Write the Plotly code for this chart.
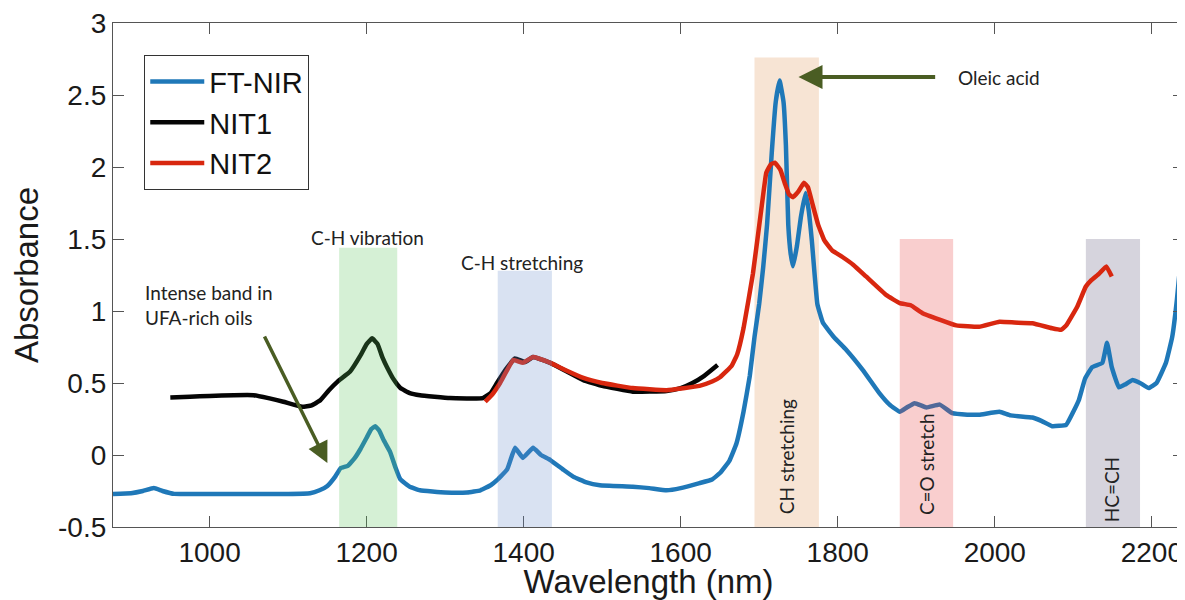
import plotly.graph_objects as go

# ---------------- data ----------------
ftnir_x = [877, 900, 915, 929, 940, 955, 1000, 1050, 1100, 1128, 1140, 1150, 1160, 1167, 1176,
           1185, 1192, 1200, 1206, 1211, 1216, 1222, 1230, 1237, 1243, 1255, 1268, 1300, 1328,
           1345, 1358, 1366, 1379, 1389, 1399, 1412, 1422, 1434, 1450, 1463, 1480, 1497, 1539,
           1560, 1582, 1600, 1624, 1640, 1650, 1662, 1671, 1680, 1688, 1694, 1700, 1705, 1710,
           1716, 1721, 1726, 1731, 1734, 1737, 1740, 1743, 1748, 1753, 1759, 1763, 1767, 1774,
           1781, 1795, 1811, 1832, 1853, 1866, 1879, 1888, 1898, 1913, 1930, 1946, 1965, 1980,
           2006, 2020, 2048, 2060, 2073, 2091, 2100, 2107, 2115, 2124, 2137, 2143, 2149, 2158,
           2166, 2175, 2185, 2196, 2206, 2218, 2226, 2232, 2238, 2244]
ftnir_y = [-0.27, -0.265, -0.25, -0.23, -0.25, -0.27, -0.27, -0.27, -0.27, -0.265, -0.245, -0.215,
           -0.15, -0.09, -0.075, -0.02, 0.04, 0.12, 0.18, 0.2, 0.17, 0.1, 0.02, -0.09, -0.17, -0.22,
           -0.245, -0.26, -0.26, -0.245, -0.21, -0.175, -0.1, 0.05, -0.02, 0.05, 0.0, -0.035, -0.1,
           -0.15, -0.19, -0.21, -0.22, -0.23, -0.245, -0.23, -0.195, -0.17, -0.125, -0.04, 0.08,
           0.3, 0.55, 0.82, 1.05, 1.3, 1.6, 2.1, 2.45, 2.6, 2.45, 2.15, 1.6, 1.4, 1.31, 1.45, 1.65,
           1.82, 1.7, 1.49, 1.05, 0.92, 0.82, 0.73, 0.59, 0.43, 0.35, 0.3, 0.33, 0.36, 0.33, 0.35,
           0.29, 0.28, 0.28, 0.3, 0.275, 0.26, 0.235, 0.2, 0.21, 0.3, 0.38, 0.53, 0.61, 0.64, 0.78,
           0.61, 0.47, 0.49, 0.52, 0.5, 0.465, 0.5, 0.64, 0.82, 1.08, 1.42, 1.7]

nit1_x = [950, 975, 1000, 1031, 1056, 1075, 1094, 1118, 1130, 1141, 1152, 1163, 1179, 1192, 1200,
          1207, 1214, 1220, 1226, 1235, 1243, 1255, 1268, 1306, 1348, 1358, 1366, 1378, 1389,
          1402, 1412, 1434, 1455, 1476, 1500, 1539, 1582, 1600, 1615, 1630, 1647]
nit1_y = [0.40, 0.405, 0.41, 0.415, 0.415, 0.395, 0.37, 0.335, 0.345, 0.38, 0.45, 0.51, 0.58, 0.69,
          0.77, 0.81, 0.77, 0.68, 0.61, 0.52, 0.465, 0.43, 0.415, 0.395, 0.395, 0.43, 0.5, 0.6,
          0.67, 0.645, 0.68, 0.64, 0.58, 0.52, 0.48, 0.44, 0.445, 0.465, 0.5, 0.55, 0.625]

nit2_x = [1351, 1360, 1370, 1387, 1399, 1412, 1434, 1455, 1476, 1500, 1539, 1582, 1624, 1640, 1650,
          1665, 1672, 1680, 1692, 1703, 1709, 1715, 1720, 1727, 1733, 1738, 1743, 1750, 1757,
          1762, 1768, 1775, 1783, 1793, 1806, 1820, 1836, 1862, 1879, 1893, 1908, 1930, 1951,
          1980, 2006, 2025, 2048, 2073, 2085, 2091, 2105, 2116, 2123, 2133, 2142, 2149]
nit2_y = [0.37, 0.42, 0.5, 0.66, 0.64, 0.68, 0.64, 0.585, 0.535, 0.5, 0.465, 0.45, 0.48, 0.51, 0.54,
          0.62, 0.7, 0.88, 1.26, 1.72, 1.96, 2.02, 2.03, 1.98, 1.88, 1.81, 1.79, 1.83, 1.89, 1.86,
          1.74, 1.6, 1.49, 1.42, 1.375, 1.32, 1.24, 1.11, 1.055, 1.04, 0.985, 0.94, 0.9, 0.89,
          0.925, 0.92, 0.915, 0.88, 0.87, 0.9, 1.03, 1.17, 1.215, 1.26, 1.31, 1.24]

series_names = ["FT-NIR", "NIT1", "NIT2"]
series_colors = ["#1f78b8", "#050505", "#d8270f"]

# highlighted bands (wavelength range and height)
band_x0 = [1165, 1367, 1694, 1879, 2116]
band_x1 = [1239, 1436, 1776, 1947, 2185]
band_top = [1.44, 1.28, 2.76, 1.5, 1.5]
band_fill = ["rgba(87,195,87,0.25)", "rgba(103,139,203,0.25)", "#f7e4d4",
             "rgba(230,60,60,0.25)", "#d6d4dd"]
band_layer = ["above", "above", "below", "above", "below"]

x_ticks = [1000, 1200, 1400, 1600, 1800, 2000, 2200]
x_ticktext = ["1000", "1200", "1400", "1600", "1800", "2000", "2200"]
y_ticks = [-0.5, 0, 0.5, 1, 1.5, 2, 2.5, 3]
y_ticktext = ["-0.5", "0", "0.5", "1", "1.5", "2", "2.5", "3"]

# ---------------- figure ----------------
fig = go.Figure()
for name, xs, ys, col in zip(series_names, [ftnir_x, nit1_x, nit2_x],
                             [ftnir_y, nit1_y, nit2_y], series_colors):
    fig.add_trace(go.Scatter(x=xs, y=ys, mode="lines", name=name,
                             line=dict(color=col, width=4.5, shape="spline", smoothing=0.3)))

for x0, x1, top, fill, layer in zip(band_x0, band_x1, band_top, band_fill, band_layer):
    fig.add_shape(type="rect", xref="x", yref="y", x0=x0, x1=x1, y0=-0.5, y1=top,
                  fillcolor=fill, line=dict(width=0), layer=layer)

ann_font = dict(family="Lato, Open Sans, sans-serif", size=19, color="#222222")
arrow_col = "#4a5d23"

fig.add_annotation(x=1201, y=1.51, text="C-H vibration", showarrow=False, font=ann_font)
fig.add_annotation(x=1398, y=1.34, text="C-H stretching", showarrow=False, font=ann_font)
fig.add_annotation(x=915, y=1.04, text="Intense band in<br>UFA-rich oils", showarrow=False,
                   xanchor="left", align="left", font=ann_font)
fig.add_annotation(x=1950, y=2.625, text="Oleic acid", showarrow=False, xanchor="left",
                   font=ann_font)
fig.add_annotation(x=1735, y=-0.01, text="CH stretching", showarrow=False, textangle=-90,
                   font=ann_font)
fig.add_annotation(x=1913, y=-0.06, text="C=O stretch", showarrow=False, textangle=-90,
                   font=ann_font)
fig.add_annotation(x=2149, y=-0.24, text="HC=CH", showarrow=False, textangle=-90,
                   font=ann_font)

# arrows
fig.add_annotation(x=1750, y=2.625, ax=1926, ay=2.625, xref="x", yref="y", axref="x", ayref="y",
                   text="", showarrow=True, arrowhead=2, arrowsize=1.2, arrowwidth=4,
                   arrowcolor=arrow_col)
fig.add_annotation(x=1150, y=-0.056, ax=1069, ay=0.833, xref="x", yref="y", axref="x", ayref="y",
                   text="", showarrow=True, arrowhead=2, arrowsize=1.2, arrowwidth=3.5,
                   arrowcolor=arrow_col)

axis_font = dict(family="Liberation Sans, Arial, sans-serif", size=28, color="#1a1a1a")
title_font = dict(family="Liberation Sans, Arial, sans-serif", size=33, color="#1a1a1a")
fig.update_layout(
    width=1177, height=592,
    margin=dict(l=105, r=1, t=15, b=73, autoexpand=False),
    paper_bgcolor="white", plot_bgcolor="white",
    showlegend=True,
    legend=dict(x=0.029, y=0.9365, xanchor="left", yanchor="top",
                bgcolor="white", bordercolor="#333333", borderwidth=1.2,
                font=dict(family="Liberation Sans, Arial, sans-serif", size=29, color="#111111"),
                itemwidth=54, tracegroupgap=0),
    xaxis=dict(range=[877, 2241], tickvals=x_ticks, ticktext=x_ticktext, automargin=False,
               ticks="inside", ticklen=11, tickcolor="#555555", showline=True,
               linecolor="#555555", linewidth=1.2, mirror="ticks", showgrid=False, zeroline=False,
               tickfont=axis_font, ticklabeloverflow="allow",
               title=dict(text="Wavelength (nm)", standoff=8, font=title_font)),
    yaxis=dict(range=[-0.5, 3], tickvals=y_ticks, ticktext=y_ticktext, automargin=False,
               ticks="inside", ticklen=11, tickcolor="#555555", showline=True,
               linecolor="#555555", linewidth=1.2, mirror="ticks", showgrid=False, zeroline=False,
               tickfont=axis_font, ticklabeloverflow="allow",
               title=dict(text="Absorbance", standoff=14, font=title_font)),
)

fig.write_html("out.html")
